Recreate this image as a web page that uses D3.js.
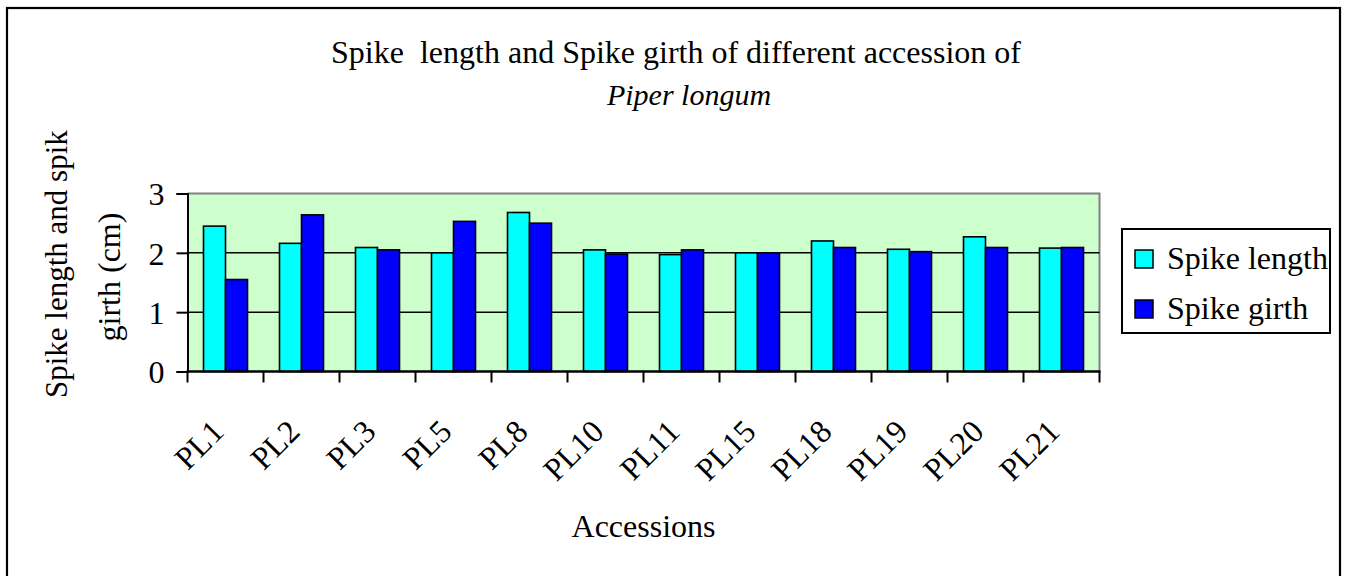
<!DOCTYPE html>
<html><head><meta charset="utf-8">
<script src="https://cdn.jsdelivr.net/npm/d3@7"></script>
<style>
html,body{margin:0;padding:0;background:#fff;}
svg{display:block;}
</style></head>
<body>
<svg id="chart" width="1347" height="576"></svg>
<script>
const categories = ["PL1","PL2","PL3","PL5","PL8","PL10","PL11","PL15","PL18","PL19","PL20","PL21"];
const spikeLength = [2.45,2.16,2.09,2.00,2.68,2.05,1.97,2.00,2.20,2.06,2.27,2.08];
const spikeGirth  = [1.55,2.64,2.05,2.53,2.50,1.98,2.05,2.00,2.09,2.02,2.09,2.09];
const seriesNames = ["Spike length","Spike girth"];
const seriesColors = ["#00FFFF","#0000FF"];
const yTicks = [0,1,2,3];

const SERIF = "'Liberation Serif','Times New Roman',Times,serif";
const svg = d3.select("#chart");
const FS = 32;
function T(sel, size){ return sel.style("font-family",SERIF).style("font-size",size+"px").style("fill","#000"); }

// outer border
svg.append("rect").attr("x",7).attr("y",8).attr("width",1333).attr("height",580)
  .attr("fill","none").attr("stroke","#000").attr("stroke-width",2.2);

const plot = {left:187.5, right:1099.5, top:193.5, bottom:371.5};
const x0 = d3.scaleBand().domain(categories).range([plot.left, plot.right]).paddingInner(0).paddingOuter(0);
const x1 = d3.scaleBand().domain(seriesNames).range([0, x0.bandwidth()]).paddingInner(0).paddingOuter(0.727);
const y = d3.scaleLinear().domain([0,3]).range([plot.bottom, plot.top]);

// plot background
svg.append("rect").attr("x",plot.left).attr("y",plot.top)
  .attr("width",plot.right-plot.left).attr("height",plot.bottom-plot.top)
  .attr("fill","#CCFFCC");
svg.append("path").attr("d",`M${plot.left},${plot.top}H${plot.right}V${plot.bottom}`)
  .attr("fill","none").attr("stroke","#808080").attr("stroke-width",2);

// gridlines
svg.append("g").selectAll("line").data(yTicks.filter(t=>t>0 && t<3)).join("line")
  .attr("x1",plot.left).attr("x2",plot.right)
  .attr("y1",d=>y(d)).attr("y2",d=>y(d))
  .attr("stroke","#000").attr("stroke-width",1.5);

// bars
const data = categories.map((c,i)=>({cat:c, vals:[spikeLength[i], spikeGirth[i]]}));
const g = svg.append("g").selectAll("g").data(data).join("g")
  .attr("transform",d=>`translate(${x0(d.cat)},0)`);
g.selectAll("rect").data(d=>d.vals.map((v,k)=>({v,k}))).join("rect")
  .attr("x",d=>x1(seriesNames[d.k]))
  .attr("width",x1.bandwidth())
  .attr("y",d=>y(d.v))
  .attr("height",d=>y(0)-y(d.v))
  .attr("fill",d=>seriesColors[d.k])
  .attr("stroke","#000").attr("stroke-width",1.6);

// y axis
const yAxis = d3.axisLeft(y).tickValues(yTicks).tickSize(11).tickPadding(12).tickFormat(d3.format("d"));
const ya = svg.append("g").attr("transform",`translate(${plot.left},0)`).call(yAxis);
ya.select(".domain").attr("stroke","#000").attr("stroke-width",2);
ya.selectAll(".tick line").attr("stroke","#000").attr("stroke-width",2);
T(ya.selectAll(".tick text"), FS).attr("dy","0.35em");

// x axis (ticks at category boundaries)
const xa = svg.append("g").attr("transform",`translate(0,${plot.bottom})`);
xa.append("line").attr("x1",plot.left-1).attr("x2",plot.right+1).attr("stroke","#000").attr("stroke-width",2.5);
const bounds = categories.map(c=>x0(c)).concat([x0(categories[categories.length-1])+x0.bandwidth()]);
xa.selectAll("line.tk").data(bounds).join("line").attr("class","tk")
  .attr("x1",d=>d).attr("x2",d=>d).attr("y1",0).attr("y2",11)
  .attr("stroke","#000").attr("stroke-width",2);
T(xa.selectAll("text").data(categories).join("text")
  .attr("transform",d=>`translate(${x0(d)+x0.bandwidth()/2},${62}) rotate(-45)`)
  .attr("text-anchor","end").text(d=>d), FS);

// axis titles
T(svg.append("text").attr("x",(plot.left+plot.right)/2).attr("y",537)
  .attr("text-anchor","middle").text("Accessions"), FS);

const clip = svg.append("defs").append("clipPath").attr("id","ylabclip");
clip.append("rect").attr("x",0).attr("y",129).attr("width",180).attr("height",400);
const yl = svg.append("g").attr("clip-path","url(#ylabclip)");
T(yl.append("text").attr("transform","translate(67,398) rotate(-90)")
  .attr("text-anchor","start").text("Spike length and spike"), 31);
T(yl.append("text").attr("transform","translate(120,277) rotate(-90)")
  .attr("text-anchor","middle").text("girth (cm)"), FS);

// title
T(svg.append("text").attr("x",676).attr("y",63).attr("text-anchor","middle")
  .style("white-space","pre")
  .text("Spike  length and Spike girth of different accession of"), FS);
T(svg.append("text").attr("x",689).attr("y",105).attr("text-anchor","middle")
  .text("Piper longum"), 30).style("font-style","italic");

// legend
const lg = svg.append("g");
lg.append("rect").attr("x",1122).attr("y",229).attr("width",208).attr("height",104)
  .attr("fill","#fff").attr("stroke","#000").attr("stroke-width",2);
const items = lg.selectAll("g").data(seriesNames).join("g")
  .attr("transform",(d,i)=>`translate(1135,${250+i*50})`);
items.append("rect").attr("width",18).attr("height",18)
  .attr("fill",(d,i)=>seriesColors[i]).attr("stroke","#000").attr("stroke-width",1.5);
T(items.append("text").attr("x",32).attr("y",19).text(d=>d), FS);
</script>
</body></html>
